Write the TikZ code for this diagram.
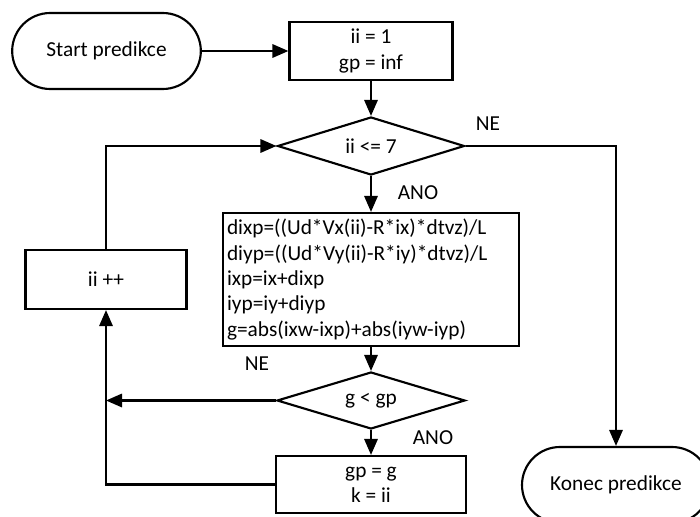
\documentclass[tikz,border=0pt]{standalone}
\usepackage{fontspec}
\setmainfont{Carlito}
\usetikzlibrary{shapes.geometric,arrows.meta}
\begin{document}
\begin{tikzpicture}[x=0.75pt,y=-0.75pt,
  font=\fontsize{16}{19}\selectfont,
  line width=1.6pt,
  >={Triangle[length=12pt,width=10pt]},
  term/.style={draw, rounded corners=28.5pt, minimum width=141.5pt, minimum height=57pt, inner sep=0pt},
  proc/.style={draw, rectangle, inner sep=0pt},
  dec/.style={draw, diamond, aspect=3, inner sep=0pt},
  lbl/.style={inner sep=0pt}]
\useasboundingbox (0,0) rectangle (700,517);
\clip (0,0) rectangle (700,517);

\node[term] (start) at (106.5,51) {Start predikce};
\node[proc, minimum width=122.25pt, minimum height=43.5pt, align=center] (init) at (371,51) {ii = 1\\gp = inf};
\node[dec, minimum width=140.25pt, minimum height=43.5pt] (d1) at (371,146) {ii <= 7};
\node[proc, minimum width=222pt, minimum height=99.75pt, text width=216pt, align=left, inner xsep=3pt] (calc) at (371,279.5)
  {dixp=((Ud*Vx(ii)-R*ix)*dtvz)/L\\diyp=((Ud*Vy(ii)-R*iy)*dtvz)/L\\ixp=ix+dixp\\iyp=iy+diyp\\g=abs(ixw-ixp)+abs(iyw-iyp)};
\node[proc, minimum width=120.75pt, minimum height=44.25pt] (inc) at (106,279.5) {ii ++};
\node[dec, minimum width=141pt, minimum height=42.75pt] (d2) at (371,400.5) {g < gp};
\node[proc, minimum width=142.5pt, minimum height=42.75pt, align=center] (upd) at (371,484.5) {gp = g\\k = ii};
\node[term, minimum width=141pt] (end) at (616,485) {Konec predikce};

\coordinate (j2) at (106,400.5);

\node[lbl] (l1) at (418,193) {ANO};
\node[lbl] (l2) at (488,124) {NE};
\node[lbl] (l3) at (257,364) {NE};
\node[lbl] (l4) at (433,438) {ANO};

\draw[->] (start.east) -- (init.west);
\draw[->] (init.south) -- (d1.north);
\draw[->] (d1.south) -- (calc.north);
\draw[->] (d1.east) -| (end.north);
\draw[->] (calc.south) -- (d2.north);
\draw[->] (d2.west) -- (j2);
\draw[->] (d2.south) -- (upd.north);
\draw[->] (upd.west) -| (inc.south);
\draw[->] (inc.north) |- (d1.west);
\end{tikzpicture}
\end{document}
